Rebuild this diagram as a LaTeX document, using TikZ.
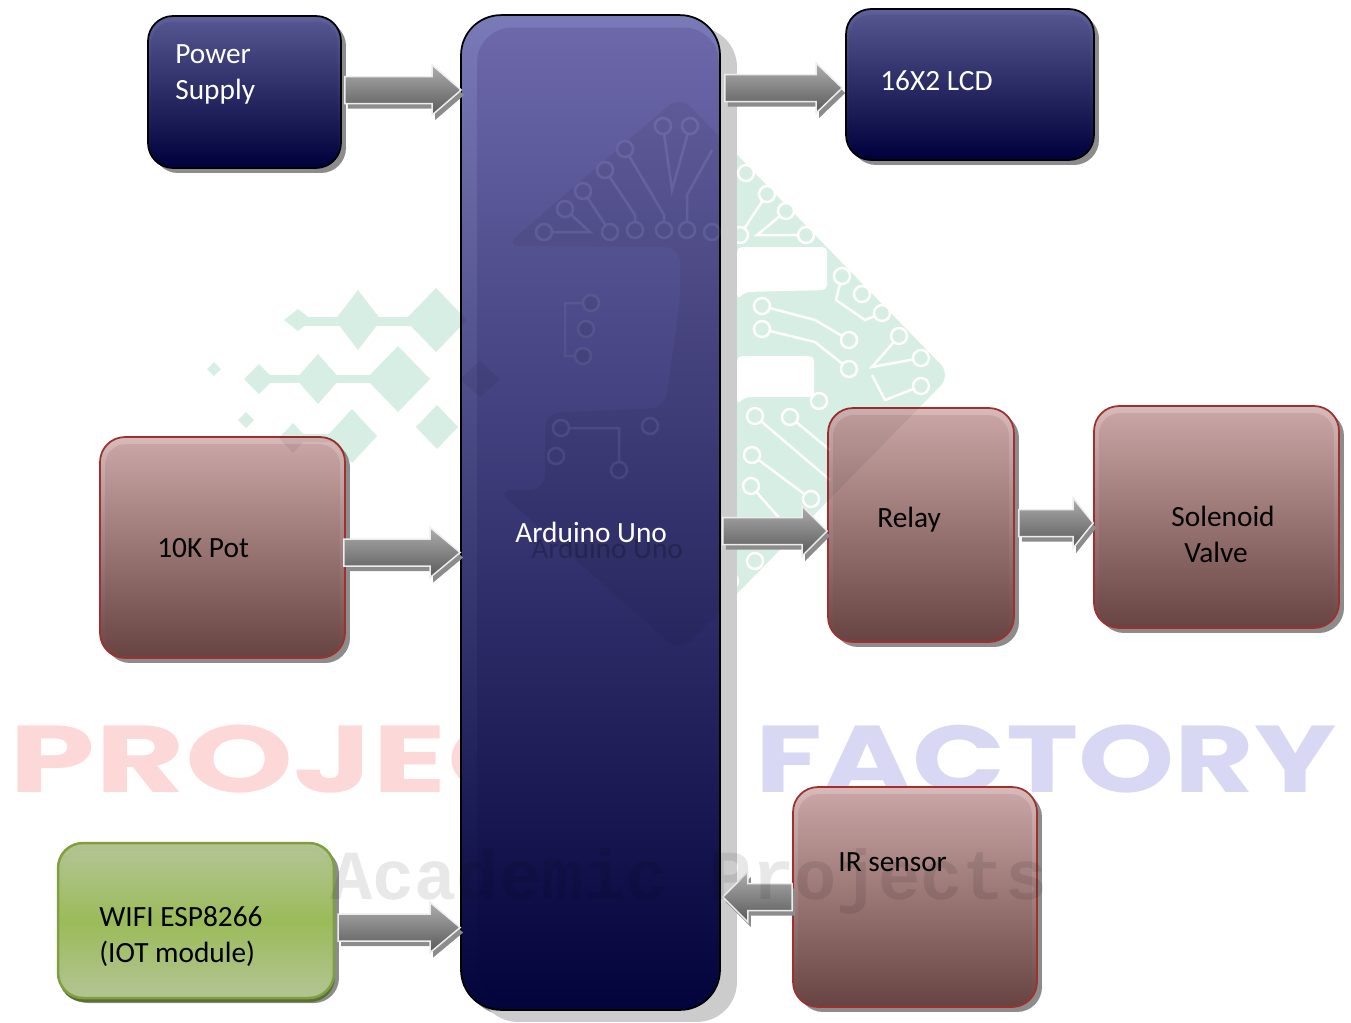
\documentclass[tikz,border=0pt]{standalone}
\usepackage{fontspec}
\setmainfont{Carlito}
\newfontfamily\wmfont{Poppins}
\newfontfamily\wmmono{Liberation Mono}
\usepackage{tikz}
\usetikzlibrary{calc,shadows}
\definecolor{navytop}{RGB}{96,96,156}
\definecolor{navyin}{RGB}{84,84,142}
\definecolor{navybot}{RGB}{0,0,60}
\definecolor{unotop}{RGB}{122,122,184}
\definecolor{unoin}{RGB}{108,104,170}
\definecolor{unobot}{RGB}{4,4,60}
\definecolor{brownedge}{RGB}{160,48,48}
\definecolor{browntop}{RGB}{216,186,186}
\definecolor{brownin}{RGB}{200,164,164}
\definecolor{brownbot}{RGB}{104,68,66}
\definecolor{greenedge}{RGB}{128,160,64}
\definecolor{greenlite}{RGB}{178,196,146}
\definecolor{greenmid}{RGB}{155,187,89}
\definecolor{wmgreen}{RGB}{214,238,227}
\definecolor{wmpink}{RGB}{252,216,216}
\definecolor{wmlilac}{RGB}{216,216,244}
\colorlet{logofill}{wmgreen}
\newcommand{\logoart}{%
  \fill[logofill,rounded corners=0.3cm] (505,246) -- (680,96) -- (951,375) -- (680,652) -- (497,490)
    -- (545,490) -- (545,413) -- (665,408) -- (680,300) -- (680,247) -- cycle;
  \fill[white,rounded corners=0.1cm] (737,247) -- (827,247) -- (827,290) -- (745,292) -- (737,300) -- cycle;
  \fill[white,rounded corners=0.1cm] (737,356) -- (814,356) -- (814,397) -- (745,397) -- (737,405) -- cycle;
  \foreach \a/\b/\c/\d in {298/320/14/11,358/320/23/30,436/320/31/32,259/379/15/15,318/379/22/25,398/379/32/33,
      480/379/20/18,214/369/7/7,246/420/8/8,293/438/14/15,352/436/25/27,437/427/21/22}
    \fill[logofill] (\a-\c,\b) -- (\a,\b-\d) -- (\a+\c,\b) -- (\a,\b+\d) -- cycle;
  \fill[logofill] (298,317) rectangle (436,326);
  \fill[logofill] (259,375) rectangle (398,383);
  \fill[logofill] (293,434) rectangle (352,442);
  \draw[trace] (663,126) -- (672,190) -- (690,126);
  \draw[trace] (625,149) -- (664,215) -- (664,230);
  \draw[trace] (605,170) -- (635,215) -- (635,230);
  \draw[trace] (583,191) -- (610,232);
  \draw[trace] (565,209) -- (590,232) -- (544,232);
  \draw[trace] (687,230) -- (687,195) -- (712,150);
  \draw[trace] (767,194) -- (740,235);
  \draw[trace] (786,211) -- (757,235) -- (806,235);
  \draw[trace] (842,276) -- (836,300) -- (865,320) -- (882,313);
  \draw[trace] (762,306) -- (815,320) -- (849,340);
  \draw[trace] (762,329) -- (815,342) -- (849,369);
  \draw[trace] (899,336) -- (872,367) -- (921,358);
  \draw[trace] (921,386) -- (885,400) -- (872,375);
  \draw[trace] (755,416) -- (830,480);
  \draw[trace] (790,417) -- (830,450);
  \draw[trace] (752,455) -- (811,499);
  \draw[trace] (751,486) -- (790,530);
  \draw[trace] (561,428) -- (619,428) -- (619,470);
  \draw[trace] (591,303) -- (565,303) -- (565,356) -- (583,356);
  \foreach \a/\b in {663/126,690/126,625/149,605/170,583/191,565/209,544/232,610/232,635/230,664/230,687/230,712/232,
      740/235,746/173,767/194,786/211,806/235,842/276,862/294,882/313,762/306,762/329,849/340,849/369,899/336,921/358,
      921/386,755/416,790/417,819/401,752/455,751/486,811/499,755/561,730/581,591/303,586/329,583/356,561/428,650/426,
      556/456,619/470}
    \draw[ring] (\a,\b) circle (0.16cm);
}
\begin{document}
\begin{tikzpicture}[x=0.02cm,y=-0.02cm,
  lbl/.style={anchor=west,inner sep=0pt,align=left,font=\fontsize{16.7}{20.5}\selectfont},
  lblback/.style={lbl,opacity=0.22},
  block/.style={draw,line width=0.035cm,rounded corners=0.5cm,
    drop shadow={shadow xshift=0.1cm,shadow yshift=-0.1cm,fill=black!45,opacity=1}},
  inset/.style={rounded corners=0.42cm},
  navybox/.style={block,draw=black,top color=navytop,bottom color=navybot},
  navyinset/.style={inset,top color=navyin,bottom color=navybot},
  brownbox/.style={block,draw=brownedge,top color=browntop,bottom color=brownbot},
  browninset/.style={inset,top color=brownin,bottom color=brownbot},
  greenbox/.style={block,draw=greenedge,line width=0.05cm,top color=greenlite,bottom color=greenlite,middle color=greenmid,
    drop shadow={shadow xshift=0.02cm,shadow yshift=-0.08cm,fill=greenedge!70!black,opacity=1}},
  greeninset/.style={inset,top color=greenlite,bottom color=greenlite,middle color=greenmid},
  blockarrow/.style={draw=black!7,line width=0.03cm,top color=black!32,bottom color=black!65,
    drop shadow={shadow xshift=0.06cm,shadow yshift=-0.1cm,fill=black!45,opacity=1},
    to path={($(\tikztostart)!0.27cm!90:(\tikztotarget)$)
      -- ($(\tikztotarget)!#1!(\tikztostart)!0.27cm!-90:(\tikztostart)$)
      -- ($(\tikztotarget)!#1!(\tikztostart)!0.5cm!-90:(\tikztostart)$)
      -- (\tikztotarget)
      -- ($(\tikztotarget)!#1!(\tikztostart)!0.5cm!90:(\tikztostart)$)
      -- ($(\tikztotarget)!#1!(\tikztostart)!0.27cm!90:(\tikztostart)$)
      -- ($(\tikztostart)!0.27cm!-90:(\tikztotarget)$) -- cycle}},
  ring/.style={draw=white,line width=0.05cm,fill=logofill},
  trace/.style={draw=white,line width=0.05cm},
  wmtext/.style={inner sep=0pt,font=\wmfont\bfseries\fontsize{54}{54}\selectfont,transform shape}]
  \useasboundingbox (0,0) rectangle (1351,1022);
  \logoart
  \node[wmtext,text=wmpink,anchor=base west,xscale=1.45] (wmleft) at (9,792) {PROJECTS};
  \node[wmtext,text=wmlilac,anchor=base east,xscale=1.29] (wmright) at (1337,792) {FACTORY};
  \node[navybox,rounded corners=0.8cm,top color=unotop,bottom color=unobot,minimum width=5.18cm,minimum height=19.9cm,
    drop shadow={shadow xshift=0.34cm,shadow yshift=-0.24cm,fill=black!20,opacity=1}] (uno) at (590.5,512.5) {};
  \node[inset,rounded corners=0.7cm,top color=unoin,bottom color=unobot,minimum width=4.84cm,minimum height=19.5cm] (unoin) at (598,515) {};
  \node[navybox,minimum width=3.86cm,minimum height=3.04cm] (pwr) at (244.5,92) {};
  \node[navyinset,minimum width=3.72cm,minimum height=2.9cm] (pwrin) at (244.5,94) {};
  \node[navybox,minimum width=4.96cm,minimum height=3.02cm] (lcd) at (970,84.5) {};
  \node[navyinset,minimum width=4.82cm,minimum height=2.88cm] (lcdin) at (970,86.5) {};
  \node[brownbox,minimum width=4.9cm,minimum height=4.42cm] (pot) at (222.5,547.5) {};
  \node[browninset,minimum width=4.7cm,minimum height=4.24cm] (potin) at (222.5,550) {};
  \node[brownbox,minimum width=3.72cm,minimum height=4.68cm] (relay) at (921,525) {};
  \node[browninset,minimum width=3.52cm,minimum height=4.5cm] (relayin) at (921,527.5) {};
  \node[brownbox,minimum width=4.9cm,minimum height=4.44cm] (valve) at (1216.5,517) {};
  \node[browninset,minimum width=4.7cm,minimum height=4.26cm] (valvein) at (1216.5,519.5) {};
  \node[brownbox,minimum width=4.88cm,minimum height=4.4cm] (ir) at (915,897) {};
  \node[browninset,minimum width=4.68cm,minimum height=4.22cm] (irin) at (915,899.5) {};
  \node[greenbox,minimum width=5.52cm,minimum height=3.1cm] (wifi) at (196,920.5) {};
  \node[greeninset,minimum width=5.36cm,minimum height=2.84cm] (wifiin) at (196,922) {};
  \begin{scope}
    \clip[rounded corners=0.5cm] (uno.north west) rectangle (uno.south east)
      (pot.north west) rectangle (pot.south east) (relay.north west) rectangle (relay.south east);
    \colorlet{logofill}{black}
    \begin{scope}[transparency group,opacity=0.06]
      \logoart
    \end{scope}
  \end{scope}
  \draw[blockarrow=0.58cm] ([xshift=0.06cm,yshift=0.04cm]pwr.east) to ([xshift=0.02cm,yshift=0.04cm]uno.west |- pwr.east);
  \draw[blockarrow=0.52cm] ([xshift=0.08cm,yshift=-0.07cm]uno.east |- lcd.east) to ([xshift=-0.06cm,yshift=-0.07cm]lcd.west);
  \draw[blockarrow=0.6cm] ([xshift=-0.04cm,yshift=-0.1cm]pot.east) to ([yshift=-0.1cm]uno.west |- pot.east);
  \draw[blockarrow=0.5cm] ([xshift=0.04cm,yshift=-0.12cm]uno.east |- relay.east) to ([yshift=-0.12cm]relay.west);
  \draw[blockarrow=0.4cm] ([xshift=0.08cm,yshift=0.04cm]relay.east) to ([yshift=0.04cm]valve.west |- relay.east);
  \draw[blockarrow=0.5cm] (ir.west) to ([xshift=0.04cm]uno.east |- ir.west);
  \draw[blockarrow=0.6cm] ([xshift=0.06cm,yshift=-0.14cm]wifi.east) to ([yshift=-0.14cm]uno.west |- wifi.east);
  \node[lblback,text=black] (unoback) at (531,548) {Arduino Uno};
  \node[lbl,text=white] (unotxt) at (515,532) {Arduino Uno};
  \node[lbl,text=white] (pwrtxt) at (175,74) {Power\\Supply};
  \node[lbl,text=white] (lcdtxt) at (880,81) {16X2 LCD};
  \node[lbl] (pottxt) at (157,548) {10K Pot};
  \node[lbl] (relaytxt) at (877,520) {Relay};
  \node[lbl] (valvetxt) at (1171,534) {Solenoid\\\hspace*{0.26cm}Valve};
  \node[lbl] (irtxt) at (838,862) {IR sensor};
  \node[lbl] (wifitxt) at (99,936) {WIFI ESP8266\\(IOT module)};
  \node[text=black,opacity=0.09,inner sep=0pt,anchor=west,font=\wmmono\bfseries\fontsize{40}{40}\selectfont] (wmsub) at (330,881) {Academic Projects};
\end{tikzpicture}
\end{document}
